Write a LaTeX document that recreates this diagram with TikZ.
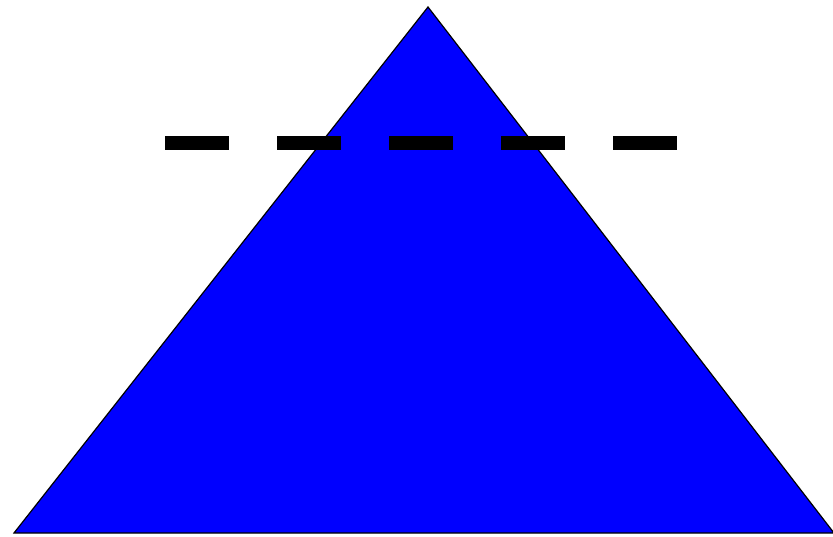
\documentclass[tikz,border=0pt]{standalone}
\usepackage{tikz}
\tikzset{
  pyramid/.style={draw=black, line width=1.2pt, fill=blue, line join=miter},
  cutline/.style={draw=black, line width=14pt, dash pattern=on 64pt off 48pt},
}

\begin{document}
\begin{tikzpicture}[x=1pt, y=-1pt]
\useasboundingbox (0,0) rectangle (833,536);
\coordinate (apex) at (428,7);
\coordinate (baseL) at (14,533);
\coordinate (baseR) at (834,533);
\coordinate (cutL) at (165,143);
\coordinate (cutR) at (677,143);
\filldraw[pyramid] (baseL) -- (apex) -- (baseR) -- cycle;
\draw[cutline] (cutL) -- (cutR);
\end{tikzpicture}
\end{document}
